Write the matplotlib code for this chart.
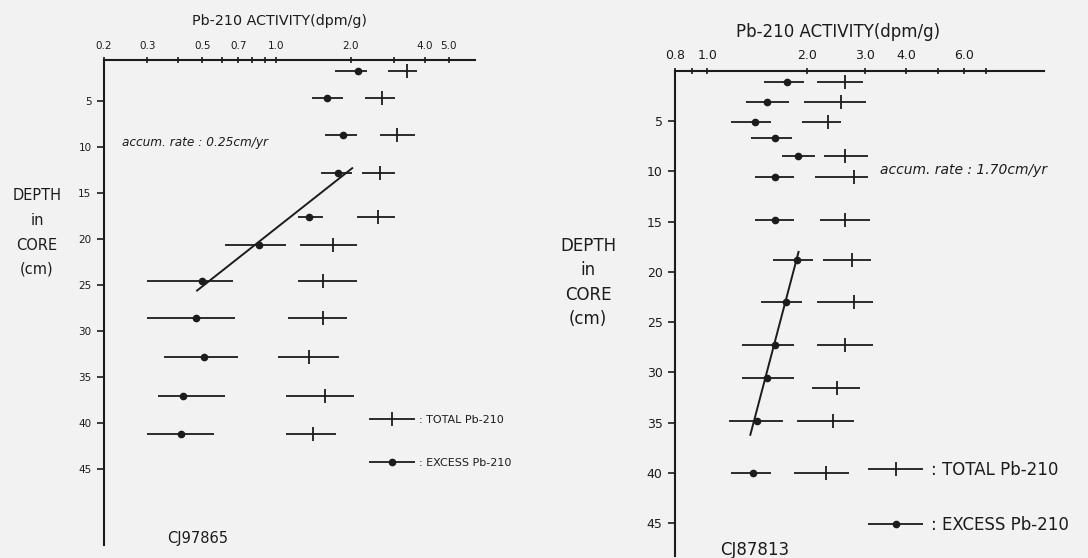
import matplotlib
matplotlib.use('Agg')
import matplotlib.pyplot as plt
from matplotlib.container import ErrorbarContainer
from matplotlib.legend_handler import HandlerErrorbar
from matplotlib.ticker import FixedLocator, FixedFormatter, NullFormatter

W, H = 1088, 558
INK = '#1c1c1c'

# --- core CJ97865 (left panel), activity in dpm/g, depth in cm
left_total_depth = [1.7, 4.7, 8.7, 12.8, 17.6, 20.6, 24.6, 28.6, 32.8, 37.1, 41.2]
left_total = [3.39, 2.69, 3.09, 2.64, 2.59, 1.69, 1.55, 1.55, 1.36, 1.58, 1.41]
left_total_lo = [2.84, 2.29, 2.64, 2.23, 2.13, 1.25, 1.22, 1.11, 1.02, 1.09, 1.09]
left_total_hi = [3.72, 3.03, 3.66, 3.03, 3.03, 2.13, 2.13, 1.93, 1.80, 2.06, 1.74]
left_excess_depth = [1.7, 4.7, 8.7, 12.8, 17.6, 20.6, 24.6, 28.6, 32.8, 37.1, 41.2]
left_excess = [2.15, 1.61, 1.87, 1.78, 1.35, 0.85, 0.50, 0.47, 0.51, 0.42, 0.41]
left_excess_lo = [1.73, 1.40, 1.58, 1.51, 1.22, 0.62, 0.30, 0.30, 0.35, 0.33, 0.30]
left_excess_hi = [2.34, 1.87, 2.13, 2.03, 1.55, 1.09, 0.67, 0.68, 0.70, 0.62, 0.56]
left_fit_act = [2.03, 0.477]
left_fit_depth = [12.3, 25.6]

# --- core CJ87813 (right panel)
right_total_depth = [1.1, 3.05, 5.05, 8.5, 10.5, 14.8, 18.8, 23.0, 27.3, 31.5, 34.8, 40.0]
right_total = [2.61, 2.55, 2.32, 2.61, 2.79, 2.61, 2.75, 2.79, 2.61, 2.48, 2.41, 2.29]
right_total_lo = [2.15, 1.97, 1.94, 2.25, 2.12, 2.20, 2.24, 2.15, 2.15, 2.08, 1.87, 1.83]
right_total_hi = [2.96, 3.03, 2.55, 3.07, 3.07, 3.12, 3.14, 3.18, 3.18, 2.90, 2.79, 2.69]
right_excess_depth = [1.1, 3.05, 5.05, 6.7, 8.5, 10.5, 14.8, 18.8, 23.0, 27.3, 30.5, 34.8, 40.0]
right_excess = [1.74, 1.52, 1.39, 1.60, 1.88, 1.60, 1.60, 1.87, 1.73, 1.60, 1.52, 1.41, 1.38]
right_excess_lo = [1.49, 1.31, 1.18, 1.36, 1.68, 1.39, 1.39, 1.58, 1.45, 1.27, 1.27, 1.16, 1.18]
right_excess_hi = [1.97, 1.77, 1.56, 1.80, 2.12, 1.83, 1.83, 2.09, 1.93, 1.83, 1.83, 1.70, 1.56]
right_fit_act = [1.89, 1.35]
right_fit_depth = [18.0, 36.2]

left_ticks_major = [0.2, 0.3, 0.5, 0.7, 1.0, 2.0, 4.0, 5.0]
left_ticks_minor = [0.4, 0.6, 0.8, 0.9, 3.0]
right_ticks_major = [0.8, 1.0, 2.0, 3.0, 4.0, 6.0]
right_ticks_minor = [0.9, 5.0, 7.0]
depth_ticks = [5, 10, 15, 20, 25, 30, 35, 40, 45]

TITLE = 'Pb-210 ACTIVITY(dpm/g)'
YLAB = ['DEPTH', 'in', 'CORE', '(cm)']
LEG = [': TOTAL Pb-210', ': EXCESS Pb-210']


def fx(x):
    return x / W


def fy(y):
    return 1 - y / H


def err(v, lo, hi):
    return [[a - b for a, b in zip(v, lo)], [c - a for a, c in zip(v, hi)]]


def panel(ax, xlim, ylim, major, minor, fs, xpad):
    ax.set_xscale('log')
    ax.set_xlim(*xlim)
    ax.set_ylim(*ylim)
    ax.set_facecolor('none')
    for s in ('right', 'bottom'):
        ax.spines[s].set_visible(False)
    for s in ('left', 'top'):
        ax.spines[s].set_linewidth(1.5)
        ax.spines[s].set_color(INK)
    ax.xaxis.tick_top()
    ax.xaxis.set_major_locator(FixedLocator(major))
    ax.xaxis.set_major_formatter(FixedFormatter(['%.1f' % t for t in major]))
    ax.xaxis.set_minor_locator(FixedLocator(minor))
    ax.xaxis.set_minor_formatter(NullFormatter())
    ax.tick_params(axis='x', which='both', direction='inout', length=5, width=1.2,
                   colors=INK, labelsize=fs, pad=xpad)
    ax.set_yticks(depth_ticks)
    ax.tick_params(axis='y', direction='out', length=5, width=1.2, colors=INK,
                   labelsize=fs, pad=4)


def series(ax, td, tv, tlo, thi, ed, ev, elo, ehi, fa, fd):
    ct = ax.errorbar(tv, td, xerr=err(tv, tlo, thi), fmt='|', color=INK,
                     ms=10, mew=1.3, elinewidth=1.3, capsize=0)
    ce = ax.errorbar(ev, ed, xerr=err(ev, elo, ehi), fmt='o', color=INK,
                     ms=4.5, elinewidth=1.3, capsize=0)
    ax.plot(fa, fd, color=INK, lw=1.4)
    return ct, ce


fig = plt.figure(figsize=(W / 100, H / 100), dpi=100)
fig.patch.set_facecolor('#f2f2f2')

# left chart
ax1 = fig.add_axes([fx(104), fy(545), (475 - 104) / W, (545 - 60) / H])
panel(ax1, (0.2, 6.39), (53.26, 0.54), left_ticks_major, left_ticks_minor, 7.5, 4.0)
h1 = series(ax1, left_total_depth, left_total, left_total_lo, left_total_hi,
            left_excess_depth, left_excess, left_excess_lo, left_excess_hi,
            left_fit_act, left_fit_depth)
ax1.legend(list(h1), LEG, handler_map={ErrorbarContainer: HandlerErrorbar(xerr_size=2.05)},
           loc='upper left', bbox_to_anchor=(fx(369), fy(415)), bbox_transform=fig.transFigure,
           frameon=False, borderpad=0, borderaxespad=0, handlelength=4.1,
           handletextpad=0.4, labelspacing=2.95, fontsize=8, labelcolor=INK)

# right chart
ax2 = fig.add_axes([fx(675), fy(556), (1043.6 - 675) / W, (556 - 71) / H])
panel(ax2, (0.798, 10.45), (48.26, 0), right_ticks_major, right_ticks_minor, 9, 4.3)
h2 = series(ax2, right_total_depth, right_total, right_total_lo, right_total_hi,
            right_excess_depth, right_excess, right_excess_lo, right_excess_hi,
            right_fit_act, right_fit_depth)
ax2.legend(list(h2), LEG, handler_map={ErrorbarContainer: HandlerErrorbar(xerr_size=1.65)},
           loc='upper left', bbox_to_anchor=(fx(868), fy(461)), bbox_transform=fig.transFigure,
           frameon=False, borderpad=0, borderaxespad=0, handlelength=3.3,
           handletextpad=0.5, labelspacing=2.2, fontsize=12, labelcolor=INK)

fig.text(fx(280), fy(21), TITLE, ha='center', va='center', fontsize=10.3, color=INK)
fig.text(fx(838), fy(32), TITLE, ha='center', va='center', fontsize=12, color=INK)

for i, s in enumerate(YLAB):
    fig.text(fx(37), fy(196 + 24.5 * i), s, ha='center', va='center', fontsize=10.5, color=INK)
    fig.text(fx(588), fy(246 + 24.5 * i), s, ha='center', va='center', fontsize=12, color=INK)

fig.text(fx(122), fy(142), 'accum. rate : 0.25cm/yr', ha='left', va='center',
         fontsize=8.7, style='italic', color=INK)
fig.text(fx(880), fy(170), 'accum. rate : 1.70cm/yr', ha='left', va='center',
         fontsize=10, style='italic', color=INK)

fig.text(fx(198), fy(539), 'CJ97865', ha='center', va='center', fontsize=10.5, color=INK)
fig.text(fx(755), fy(550), 'CJ87813', ha='center', va='center', fontsize=12, color=INK)

fig.savefig('out.png', dpi=100, facecolor=fig.get_facecolor())
